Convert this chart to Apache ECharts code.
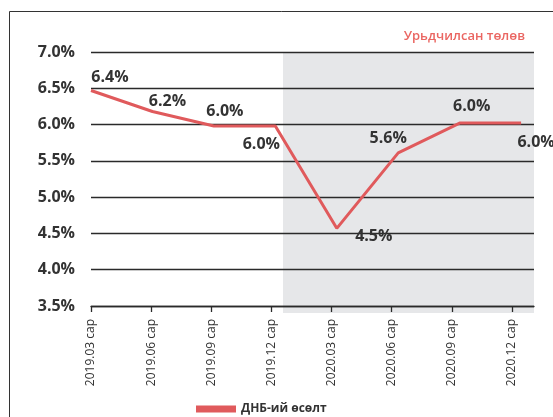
<!DOCTYPE html>
<html>
<head>
<meta charset="utf-8">
<script src="https://cdn.jsdelivr.net/npm/echarts@6/dist/echarts.min.js"></script>
<style>
html,body{margin:0;padding:0;background:#fff;}
#chart{width:553px;height:417px;}
</style>
</head>
<body>
<div id="chart"></div>
<script>
// ---- data ----
var categories = ['2019.03 сар','2019.06 сар','2019.09 сар','2019.12 сар','2020.03 сар','2020.06 сар','2020.09 сар','2020.12 сар'];
var gdpGrowth = [6.47, 6.18, 5.98, 5.98, 4.57, 5.61, 6.02, 6.02];
var valueLabels = ['6.4%','6.2%','6.0%','6.0%','4.5%','5.6%','6.0%','6.0%'];
var yTicks = [3.5, 4.0, 4.5, 5.0, 5.5, 6.0, 6.5, 7.0];
var forecastStartIndex = 3.125; // forecast shading starts between 2019.12 and 2020.03
var seriesName = 'ДНБ-ий өсөлт';
var forecastTitle = 'Урьдчилсан төлөв';

// ---- styling (label offsets relative to each point) ----
var labelOffsets = [[19,-13],[15,-10],[11,-15],[-14,18],[37,8],[-10,-14],[12,-17],[15,19]];
var FONT = 'Open Sans';
var RED = '#e05a5c';
var TXT = '#333333';

var chart = echarts.init(document.getElementById('chart'));

var lineData = gdpGrowth.map(function (v, i) {
  return {
    value: [i, v],
    label: { formatter: valueLabels[i], offset: labelOffsets[i] }
  };
});

var option = {
  animation: false,
  backgroundColor: '#ffffff',
  title: {
    text: forecastTitle,
    right: 23,
    top: 25,
    textStyle: { color: '#ea6662', fontFamily: FONT, fontSize: 13, fontWeight: 600 }
  },
  legend: {
    data: [{ name: seriesName, icon: 'rect' }],
    left: 191,
    top: 398,
    itemWidth: 40,
    itemHeight: 7,
    itemGap: 5,
    textStyle: { color: TXT, fontFamily: FONT, fontSize: 12, fontWeight: 'bold' }
  },
  grid: [
    { left: 91, right: 19, top: 52, bottom: 111, containLabel: false },
    { left: 91, right: 41, top: 52, bottom: 111, containLabel: false }
  ],
  xAxis: [
    {
      type: 'value', gridIndex: 0, min: 0, max: 7.21,
      axisLine: { show: true, onZero: false, lineStyle: { color: '#2a2a2a', width: 1.3 } },
      axisTick: { show: false },
      axisLabel: { show: false },
      splitLine: { show: false }
    },
    {
      type: 'category', gridIndex: 1, data: categories, boundaryGap: false,
      axisLine: { show: false },
      axisTick: { show: true, alignWithLabel: true, length: 6, lineStyle: { color: '#2a2a2a', width: 1.3 } },
      axisLabel: {
        rotate: 90, margin: 13, interval: 0,
        color: TXT, fontFamily: FONT, fontSize: 12
      },
      splitLine: { show: false }
    }
  ],
  yAxis: [
    {
      type: 'value', gridIndex: 0, min: 3.5, max: 7.0, interval: 0.5,
      axisLine: { show: false },
      axisTick: { show: false },
      axisLabel: {
        margin: 16, color: TXT, fontFamily: FONT, fontSize: 16, fontWeight: 'bold',
        formatter: function (v) { return v.toFixed(1) + '%'; }
      },
      splitLine: { show: true, lineStyle: { color: '#2a2a2a', width: 1.3 } }
    },
    {
      type: 'value', gridIndex: 1, min: 3.5, max: 7.0, interval: 0.5, show: false
    }
  ],
  series: [
    {
      name: seriesName,
      type: 'line',
      xAxisIndex: 0, yAxisIndex: 0,
      data: lineData,
      symbol: 'circle',
      symbolSize: 0.1,
      itemStyle: { color: RED },
      lineStyle: { color: RED, width: 3 },
      label: {
        show: true, position: 'inside',
        color: TXT, fontFamily: FONT, fontSize: 16, fontWeight: 'bold'
      },
      z: 5
    },
    {
      name: 'ticks-helper', type: 'line', xAxisIndex: 1, yAxisIndex: 1,
      data: [], silent: true
    }
  ]
};
chart.setOption(option);

// forecast shading and frame, positioned through the axes' scales
var topLeft = chart.convertToPixel({ gridIndex: 0 }, [forecastStartIndex, yTicks[yTicks.length - 1]]);
var bottomRight = chart.convertToPixel({ gridIndex: 0 }, [7.21, yTicks[0]]);
chart.setOption({
  graphic: [
    {
      type: 'rect', z: -10, silent: true,
      shape: { x: topLeft[0], y: topLeft[1], width: bottomRight[0] - topLeft[0], height: bottomRight[1] - topLeft[1] + 7 },
      style: { fill: '#e6e7e9' }
    },
    {
      type: 'polyline', z: -5, silent: true,
      shape: { points: [[9.5, 417], [9.5, 11.5], [553, 11.5]] },
      style: { stroke: '#333333', lineWidth: 1, fill: null }
    }
  ]
});
</script>
</body>
</html>
